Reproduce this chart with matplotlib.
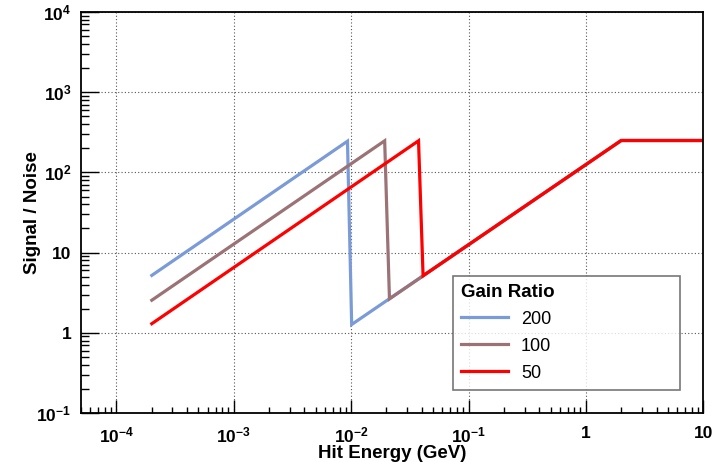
import matplotlib
matplotlib.use("Agg")
import matplotlib.pyplot as plt
from matplotlib.ticker import FixedLocator, LogLocator, NullFormatter

plt.rcParams['font.family'] = ['Liberation Sans', 'DejaVu Sans']
plt.rcParams['mathtext.fontset'] = 'custom'
plt.rcParams['mathtext.rm'] = 'Liberation Sans:bold'
plt.rcParams['mathtext.bf'] = 'Liberation Sans:bold'
plt.rcParams['mathtext.it'] = 'Liberation Sans:bold'

# Signal/noise vs hit energy for three gain ratios
gain_labels = ["200", "100", "50"]
energy_200 = [2e-4, 0.0093, 0.0101, 2.0, 10.0]
snr_200 = [5.2, 245, 1.27, 250, 250]
energy_100 = [2e-4, 0.0193, 0.0212, 2.0, 10.0]
snr_100 = [2.55, 248, 2.65, 250, 250]
energy_50 = [2e-4, 0.0375, 0.041, 2.0, 10.0]
snr_50 = [1.3, 248, 5.15, 250, 250]
line_colors = ["#7b9bd8", "#9b7275", "#ff0000"]

x_ticks = [1e-4, 1e-3, 1e-2, 1e-1, 1, 10]
x_ticklabels = [r"$10^{-4}$", r"$10^{-3}$", r"$10^{-2}$", r"$10^{-1}$", "1", "10"]
y_ticks = [1e-1, 1, 10, 1e2, 1e3, 1e4]
y_ticklabels = [r"$10^{-1}$", "1", "10", r"$10^{2}$", r"$10^{3}$", r"$10^{4}$"]

fig = plt.figure(figsize=(7.15, 4.62), dpi=100)
ax = fig.add_axes([0.1135, 0.106, 0.870, 0.868])

series = [(energy_200, snr_200), (energy_100, snr_100), (energy_50, snr_50)]
for (xs, ys), lab, col in zip(series, gain_labels, line_colors):
    ax.plot(xs, ys, color=col, lw=2.3, label=lab, solid_joinstyle='miter')

ax.set_xscale('log')
ax.set_yscale('log')
ax.set_xlim(5e-5, 10)
ax.set_ylim(0.1, 1e4)

ax.xaxis.set_major_locator(FixedLocator(x_ticks))
ax.yaxis.set_major_locator(FixedLocator(y_ticks))
ax.xaxis.set_minor_locator(LogLocator(base=10, subs=range(2, 10), numticks=20))
ax.yaxis.set_minor_locator(LogLocator(base=10, subs=range(2, 10), numticks=20))
ax.xaxis.set_minor_formatter(NullFormatter())
ax.yaxis.set_minor_formatter(NullFormatter())
ax.set_xticklabels(x_ticklabels, fontsize=12.5, fontweight='bold')
ax.set_yticklabels(y_ticklabels, fontsize=12.5, fontweight='bold')

ax.tick_params(axis='x', which='major', direction='in', length=9.4, width=1, pad=9)
ax.tick_params(axis='x', which='minor', direction='in', length=4, width=1)
ax.tick_params(axis='y', which='major', direction='in', length=13, width=1, pad=7)
ax.tick_params(axis='y', which='minor', direction='in', length=6, width=1)

ax.grid(True, which='major', linestyle=(0, (1, 2)), color='#555555', lw=0.8)
for s in ax.spines.values():
    s.set_linewidth(1.3)
    s.set_color('black')

ax.set_xlabel("Hit Energy (GeV)", fontsize=13.5, fontweight='bold', labelpad=0)
ax.set_ylabel("Signal / Noise", fontsize=13.5, fontweight='bold', labelpad=-3)

leg = ax.legend(title="Gain Ratio", loc='lower left',
                bbox_to_anchor=(0.598, 0.058, 0.365, 0.277), mode='expand',
                borderaxespad=0,
                fontsize=13, title_fontproperties={'weight': 'bold', 'size': 13.5},
                frameon=True, fancybox=False, edgecolor='#555555',
                handlelength=2.6, labelspacing=0.55, borderpad=0.45,
                handletextpad=0.7)
leg._legend_box.align = "left"
leg.get_frame().set_linewidth(1.2)

fig.savefig("out.png", dpi=100)
